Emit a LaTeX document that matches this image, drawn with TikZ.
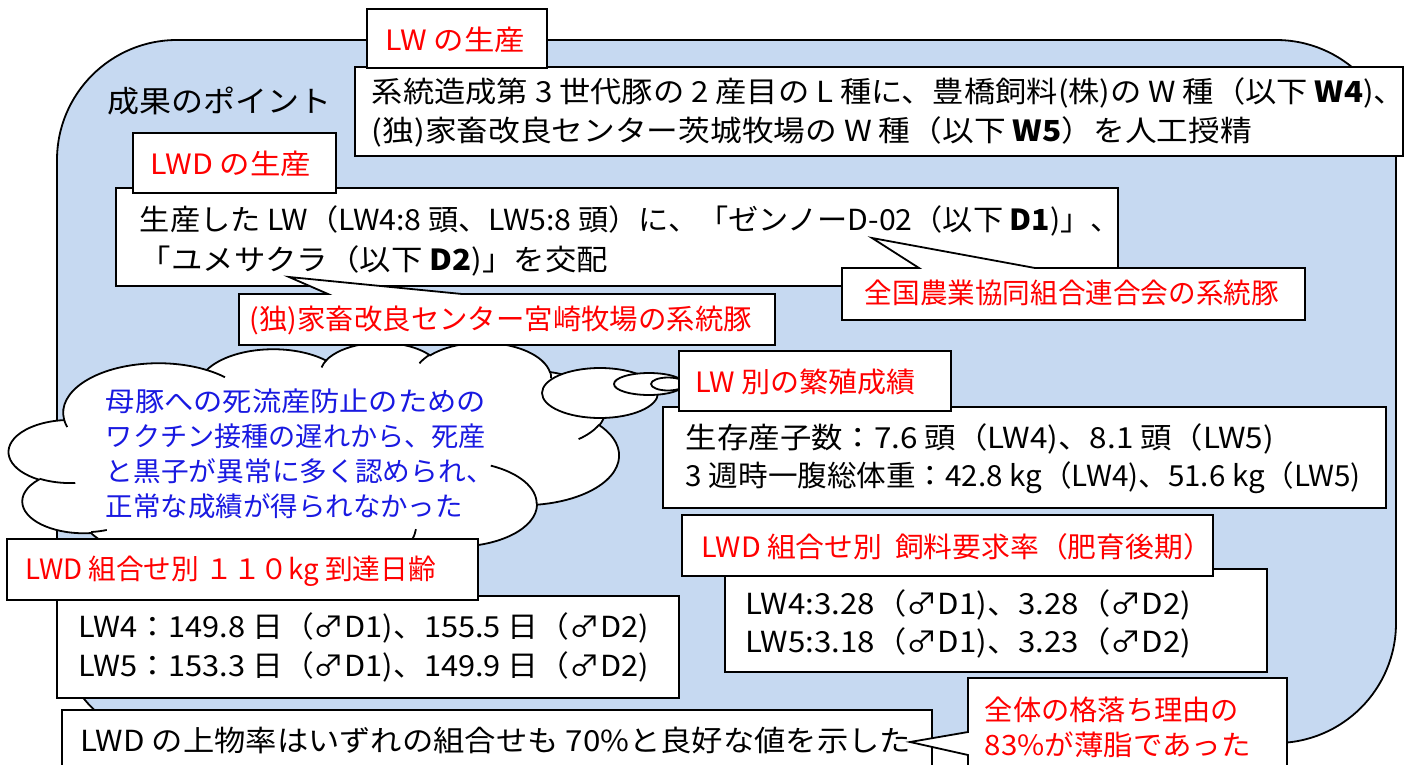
\documentclass[tikz,border=0pt]{standalone}
\usepackage{fontspec}
\setmainfont{Noto Sans CJK JP}
\definecolor{panelblue}{RGB}{198,217,241}
\definecolor{lblred}{RGB}{255,0,0}
\definecolor{cloudblue}{RGB}{25,25,225}
\newcommand\ks{\hspace{0.22em}}
\newcommand\fw[2]{\resizebox{#1pt}{\height}{#2}}
\newcommand\cang[4]{%
  \pgfmathsetmacro\caa{#3}%
  \pgfmathsetmacro\cab{#3+#4}%
  \pgfmathsetmacro\cta{atan2(#1*sin(\caa),#2*cos(\caa))}%
  \pgfmathsetmacro\cta{\cta+360*round((\caa-\cta)/360)}%
  \pgfmathsetmacro\ctb{atan2(#1*sin(\cab),#2*cos(\cab))}%
  \pgfmathsetmacro\ctb{\ctb+360*round((\cab-\ctb)/360)}%
  \global\let\ta\cta\global\let\tb\ctb}
\newcommand\carc[4]{\pgfextra{\cang{#1}{#2}{#3}{#4}} arc[start angle=\ta, end angle=\tb, x radius=#1, y radius=#2]}
\begin{document}
\begin{tikzpicture}[x=1pt,y=-1pt,line width=1.8pt,
  boxst/.style={draw=black,fill=white},
  tx/.style={anchor=west,inner sep=0pt,font=\fontsize{29}{34}\selectfont},
  lbl/.style={anchor=west,inner sep=0pt,text=lblred,font=\fontsize{28}{32}\selectfont},
  cl/.style={anchor=west,inner sep=0pt,text=cloudblue,font=\fontsize{27}{32}\selectfont}]
\useasboundingbox (0,0) rectangle (1410,765);
\clip (0,0) rectangle (1410,765);
\fill[white] (0,0) rectangle (1410,765);
% panel
\draw[fill=panelblue, rounded corners=120pt] (57,40) rectangle (1396,743);
\node[tx, font=\fontsize{30}{34}\selectfont] (title) at (107,101) {\fw{224}{成果のポイント}};
% cloud
\begin{scope}[shift={(9,342)}, x=1.4117pt, y=-0.5386pt]
\path[draw, fill=white] (39.00,143.70)
  \carc{67.53}{91.90}{-190.48748}{123.78053}
  \carc{53.33}{72.67}{-144.10238}{89.94523}
  \carc{43.65}{59.45}{-145.80792}{99.72302}
  \carc{48.57}{65.95}{-130.98607}{117.24173}
  \carc{53.33}{72.73}{-78.70888}{109.02692}
  \carc{67.75}{92.20}{-46.26725}{130.269}
  \carc{57.85}{78.67}{0.62502}{114.03333}
  \carc{67.52}{92.15}{22.4516}{115.17255}
  \carc{77.20}{105.43}{66.24263}{75.71102}
  \carc{43.60}{59.18}{-274.94208}{146.73557}
  \carc{43.45}{59.45}{-246.8285}{152.51885}
  -- cycle;
\path[draw] (46.93,261.77) \carc{43.45}{59.45}{86.742}{26.4295}
  (69.28,348.99) \carc{43.60}{59.18}{73.61047}{11.44747}
  (164.78,390.90) \carc{67.52}{92.15}{137.62415}{14.0811}
  (288.27,347.51) \carc{67.52}{92.15}{6.45327}{15.99835}
  (341.29,229.54) \carc{57.85}{78.67}{-70.29235}{70.91737}
  (417.98,153.54) \carc{53.33}{72.73}{30.31803}{27.7515}
  (383.24,54.26) \carc{48.57}{65.95}{-13.74433}{14.8589}
  (290.78,39.52) \carc{48.57}{65.95}{-149.18145}{18.19537}
  (221.41,47.20) \carc{43.65}{59.45}{-163.49427}{17.68635}
  (140.00,51.92) \carc{67.53}{91.90}{-66.70695}{12.31935}
  (41.27,157.89) \carc{67.53}{91.90}{157.65435}{11.85817};
\end{scope}
\draw[fill=white] (600,393) ellipse[x radius=58, y radius=25];
\draw[fill=white] (649,384) ellipse[x radius=35, y radius=11];
\draw[fill=white] (668,384) ellipse[x radius=17, y radius=6.5];
\node[cl] (c1) at (105,401) {\fw{380}{母豚への死流産防止のための}};
\node[cl] (c2) at (105,436) {\fw{380}{ワクチン接種の遅れから、死産}};
\node[cl] (c3) at (105,471) {\fw{388}{と黒子が異常に多く認められ、}};
\node[cl] (c4) at (105,506) {\fw{357}{正常な成績が得られなかった}};
% LW production
\draw[boxst] (355,67) rectangle (1403,156);
\draw[boxst] (367,9) rectangle (547,68);
\node[lbl] (l1) at (385,40) {\fw{139}{LW\ks の生産}};
\node[tx] (t1a) at (371,93) {\fw{1033}{系統造成第\ks 3\ks 世代豚の\ks 2\ks 産目の\ks L\ks 種に、豊橋飼料(株)の\ks W\ks 種（以下\ks\textbf{W4})、}};
\node[tx] (t1b) at (371,132) {\fw{880}{(独)家畜改良センター茨城牧場の\ks W\ks 種（以下\ks\textbf{W5}）を人工授精}};
% LWD production
\draw[boxst] (116,188) rectangle (1118,286);
\draw[boxst] (133,133) rectangle (336,193);
\node[lbl] (l2) at (150,164) {\fw{160}{LWD\ks の生産}};
\node[tx] (t2a) at (139,221) {\fw{981}{生産した\ks LW（LW4:8\ks 頭、LW5:8\ks 頭）に、「ゼンノーD-02（以下\ks\textbf{D1})」、}};
\node[tx] (t2b) at (139,261) {\fw{468}{「ユメサクラ（以下\ks\textbf{D2})」を交配}};
% callouts
\draw[boxst] (842,268) -- (919,268) -- (872,238) -- (1035,268) -- (1305,268) -- (1305,320) -- (842,320) -- cycle;
\node[lbl] (l3) at (864,293) {\fw{414}{全国農業協同組合連合会の系統豚}};
\draw[boxst] (239,294) -- (328,294) -- (289,277) -- (462,294) -- (775,294) -- (775,345) -- (239,345) -- cycle;
\node[lbl] (l4) at (249,320) {\fw{502}{(独)家畜改良センター宮崎牧場の系統豚}};
% reproduction
\draw[boxst] (663,407) rectangle (1386,508);
\draw[boxst] (679,351) rectangle (951,411);
\node[lbl] (l5) at (695,382) {\fw{220}{LW\ks 別の繁殖成績}};
\node[tx] (t3a) at (685,439) {\fw{588}{生存産子数：7.6\ks 頭（LW4)、8.1\ks 頭（LW5)}};
\node[tx] (t3b) at (685,478) {\fw{675}{3\ks 週時一腹総体重：42.8\ks kg（LW4)、51.6\ks kg（LW5)}};
% feed
\draw[boxst] (725,569) rectangle (1267,672);
\draw[boxst] (682,515) rectangle (1213,576);
\node[lbl] (l6) at (701,547) {\fw{510}{LWD\ks 組合せ別\ks\ks 飼料要求率（肥育後期）}};
\node[tx] (t4a) at (745,605) {\fw{445}{LW4:3.28（♂D1)、3.28（♂D2)}};
\node[tx] (t4b) at (745,643) {\fw{445}{LW5:3.18（♂D1)、3.23（♂D2)}};
% days to 110kg
\draw[boxst] (57,596) rectangle (679,698);
\draw[boxst] (7,539) rectangle (478,600);
\node[lbl] (l7) at (25,571) {\fw{410}{LWD\ks 組合せ別\ks １１０kg\ks 到達日齢}};
\node[tx] (t5a) at (78,628) {\fw{570}{LW4：149.8\ks 日（♂D1)、155.5\ks 日（♂D2)}};
\node[tx] (t5b) at (78,667) {\fw{570}{LW5：153.3\ks 日（♂D1)、149.9\ks 日（♂D2)}};
% bottom
\draw[boxst] (62,710) rectangle (932,780);
\node[tx] (t6) at (80,740) {\fw{830}{LWD\ks の上物率はいずれの組合せも\ks 70\%と良好な値を示した}};
\draw[boxst] (968,678) -- (1287,678) -- (1287,771) -- (968,771) -- (968,755) -- (910,742) -- (968,732) -- cycle;
\node[lbl] (l8) at (984,710) {\fw{254}{全体の格落ち理由の}};
\node[lbl] (l9) at (984,745) {\fw{266}{83\%が薄脂であった}};
\end{tikzpicture}
\end{document}
